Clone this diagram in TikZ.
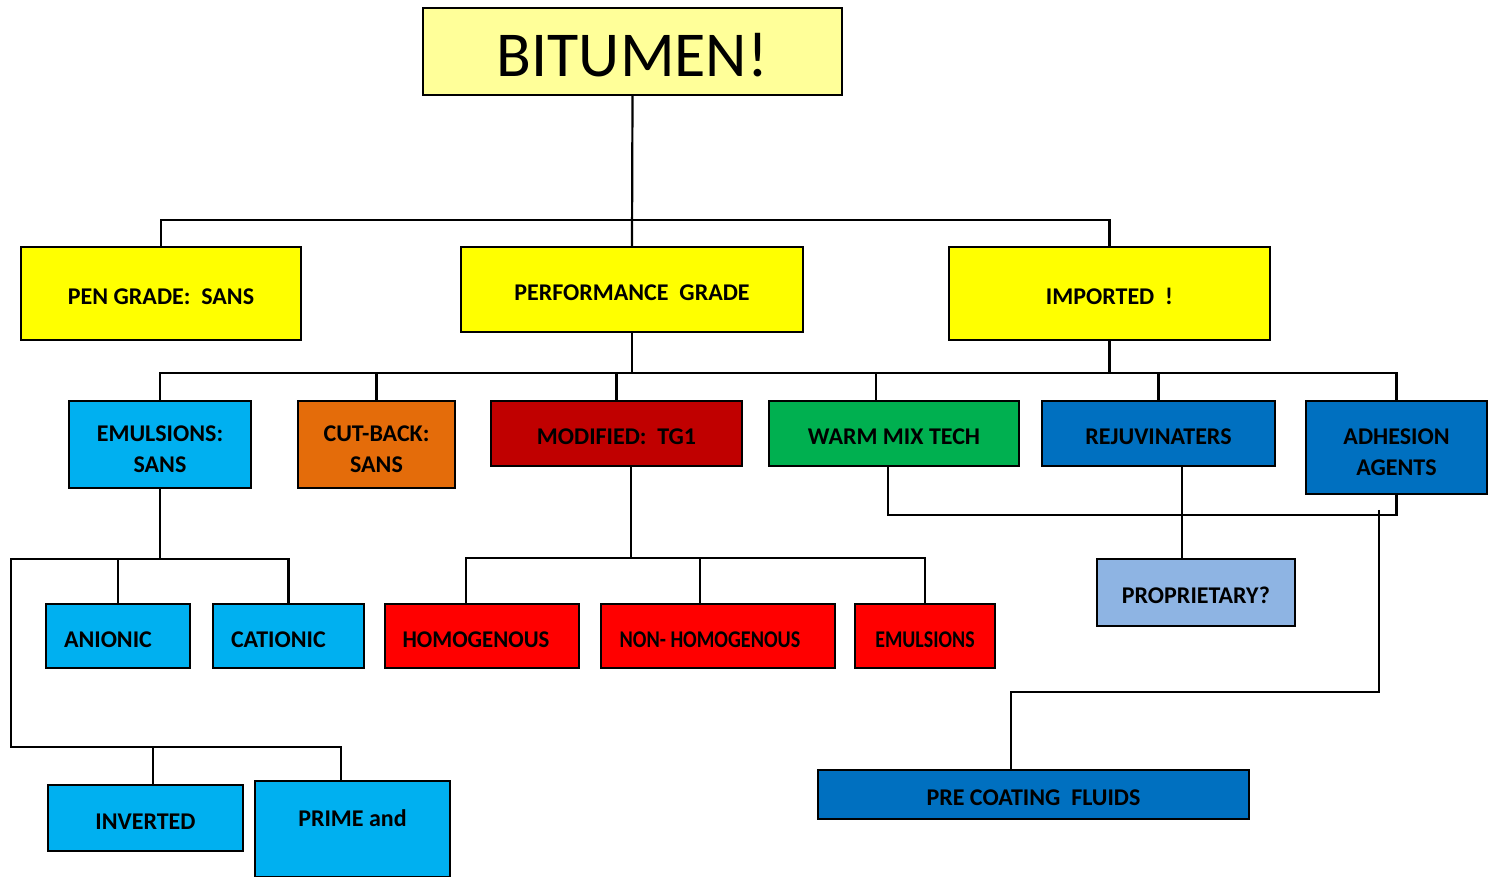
\documentclass[tikz,border=0pt]{standalone}
\usepackage{fontspec}
\usepackage{graphicx}
\setmainfont{Carlito}
\definecolor{paleyellow}{HTML}{FFFF99}
\definecolor{gradeyellow}{HTML}{FFFF00}
\definecolor{emulblue}{HTML}{00B0F0}
\definecolor{cutorange}{HTML}{E46C0A}
\definecolor{moddarkred}{HTML}{C00000}
\definecolor{warmgreen}{HTML}{00B050}
\definecolor{rejuvblue}{HTML}{0070C0}
\definecolor{brightred}{HTML}{FF0000}
\definecolor{propblue}{HTML}{8EB4E3}
\newcommand{\toplift}{\rule{0pt}{13pt}}
\begin{document}
\begin{tikzpicture}[x=0.5pt,y=-0.5pt,
  lowtext/.style={execute at begin node={\rule{0pt}{#1}}},
  lowtext/.default=11.2pt,
  box/.style={draw,line width=1.2pt,inner sep=0pt,align=center,lowtext,
    font=\bfseries\fontsize{12}{15.5}\selectfont},
  leftbox/.style={box,inner xsep=9pt,align=left},
  link/.style={line width=1.1pt}]
\useasboundingbox (0,0) rectangle (1496,877);
\node[box,fill=paleyellow,minimum width=209.5pt,minimum height=43.5pt,lowtext=25.6pt,font=\fontsize{32}{36}\selectfont] (bitumen) at (632.5,51.5) {BITUMEN!};
\node[box,fill=gradeyellow,minimum width=140pt,minimum height=46.5pt] (pen) at (161,293.5) {PEN GRADE:\ \ SANS};
\node[box,fill=gradeyellow,minimum width=171pt,minimum height=42.5pt] (perf) at (632,289.5) {PERFORMANCE\ \ GRADE};
\node[box,fill=gradeyellow,minimum width=160.5pt,minimum height=46.5pt] (imp) at (1109.5,293.5) {IMPORTED\ \ !};
\node[box,fill=emulblue,minimum width=91pt,minimum height=43.5pt] (emul) at (160,444.5) {\toplift EMULSIONS:\\SANS};
\node[box,fill=cutorange,minimum width=78.5pt,minimum height=43.5pt] (cut) at (376.5,444.5) {\toplift CUT-BACK:\\SANS};
\node[box,fill=moddarkred,minimum width=125.5pt,minimum height=32.5pt] (mod) at (616.5,433.5) {MODIFIED:\ \ TG1};
\node[box,fill=warmgreen,minimum width=125pt,minimum height=32.5pt] (warm) at (894,433.5) {WARM MIX TECH};
\node[box,fill=rejuvblue,minimum width=116.5pt,minimum height=32.5pt] (rejuv) at (1158.5,433.5) {REJUVINATERS};
\node[box,fill=rejuvblue,minimum width=90.5pt,minimum height=46.5pt] (adh) at (1396.5,447.5) {\toplift ADHESION\\AGENTS};
\node[leftbox,fill=emulblue,text width=54pt,minimum height=32pt] (anionic) at (118,636) {ANIONIC};
\node[leftbox,fill=emulblue,text width=57.5pt,minimum height=32pt] (cationic) at (288.5,636) {CATIONIC};
\node[box,fill=emulblue,minimum width=97.5pt,minimum height=33pt] (inverted) at (145.5,818) {INVERTED};
\node[box,fill=emulblue,minimum width=97.5pt,text height=22.5pt,text depth=25.5pt,anchor=north] (prime) at (352.5,780) {PRIME and};
\node[box,fill=brightred,minimum width=97pt,minimum height=32pt] (homog) at (482,636) {\hspace*{-6pt}\scalebox{0.95}[1]{HOMOGENOUS}};
\node[box,fill=brightred,minimum width=117pt,minimum height=32pt] (nonhomog) at (718,636) {\hspace*{-8pt}\scalebox{0.84}[1]{NON- HOMOGENOUS}};
\node[box,fill=brightred,minimum width=70pt,minimum height=32pt] (emultwo) at (925,636) {\scalebox{0.83}[1]{EMULSIONS}};
\node[box,fill=propblue,minimum width=99pt,minimum height=33.5pt] (prop) at (1196,592.5) {PROPRIETARY?};
\node[box,fill=rejuvblue,minimum width=215.5pt,minimum height=24.5pt] (precoat) at (1033.5,794.5) {PRE COATING\ \ FLUIDS};
\coordinate (top-bus) at (0,220);
\coordinate (mid-bus) at (0,373);
\coordinate (emul-bus) at (160,559);
\coordinate (left-bus) at (11,747);
\coordinate (mod-bus) at (0,558);
\coordinate (warm-bus) at (0,515);
\coordinate (adh-tail) at (1379,510);
\draw[link] (bitumen.south) -- (perf.north);
\draw[link] (pen.north) |- (imp.north |- top-bus) -- (imp.north);
\draw[link] (emul.north) |- (adh.north |- mid-bus) -- (adh.north);
\draw[link] (perf.south) -- (perf.south |- mid-bus);
\draw[link] (imp.south) -- (imp.south |- mid-bus);
\draw[link] (cut.north) -- (cut.north |- mid-bus);
\draw[link] (mod.north) -- (mod.north |- mid-bus);
\draw[link] ([xshift=-9pt]warm.north) -- ([xshift=-9pt]warm.north |- mid-bus);
\draw[link] (rejuv.north) -- (rejuv.north |- mid-bus);
\draw[link] (emul.south) -- (emul-bus);
\draw[link] (anionic.north) |- (cationic.north |- emul-bus) -- (cationic.north);
\draw[link] (anionic.north |- emul-bus) -| (left-bus) -| ([xshift=-5.75pt]prime.north);
\draw[link] ([xshift=3.75pt]inverted.north) -- ([xshift=3.75pt]inverted.north |- left-bus);
\draw[link] ([xshift=7.25pt]mod.south) -- ([xshift=7.25pt]mod.south |- mod-bus);
\draw[link] ([xshift=-8pt]homog.north) |- (emultwo.north |- mod-bus) -- (emultwo.north);
\draw[link] ([xshift=-9pt]nonhomog.north) -- ([xshift=-9pt]nonhomog.north |- mod-bus);
\draw[link] ([xshift=-3pt]warm.south) |- (adh.south |- warm-bus) -- (adh.south);
\draw[link] ([xshift=11.75pt]rejuv.south) -- ([xshift=-7pt]prop.north);
\draw[link] (adh-tail) |- (1011,692) -- ([xshift=-11.25pt]precoat.north);
\end{tikzpicture}
\end{document}
